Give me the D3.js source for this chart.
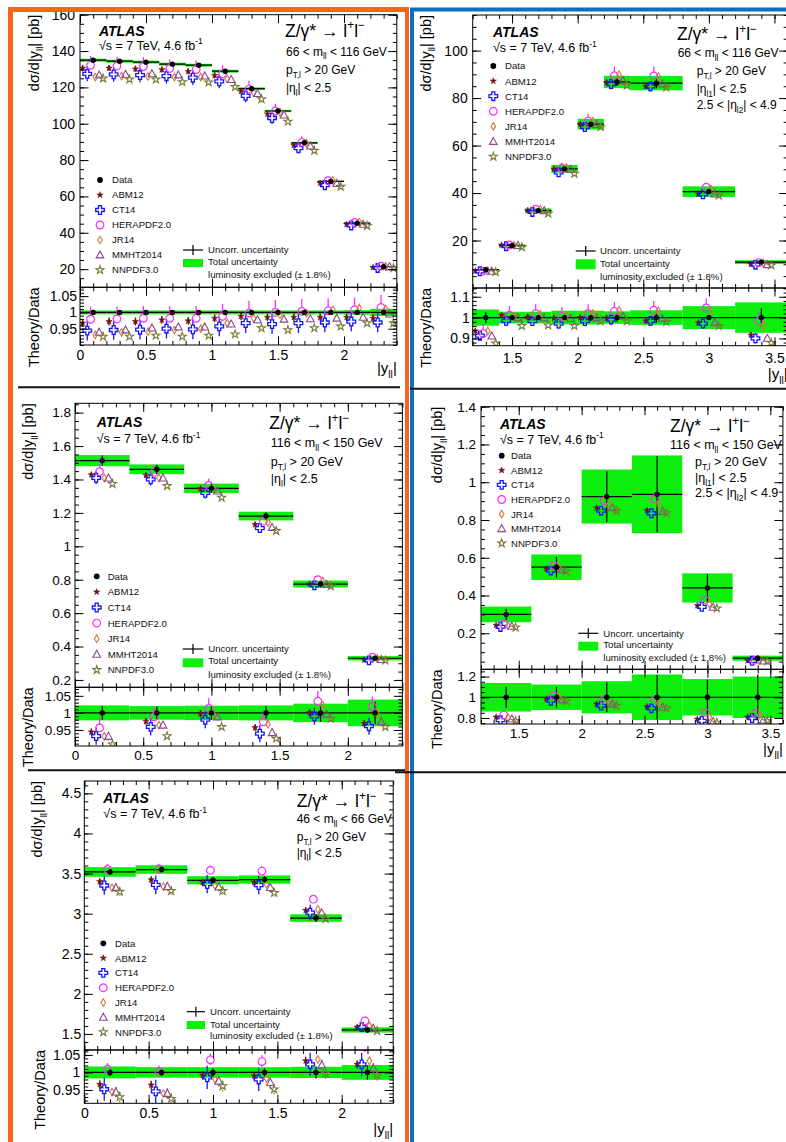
<!DOCTYPE html>
<html>
<head>
<meta charset="utf-8">
<script src="https://cdn.jsdelivr.net/npm/d3@7"></script>
<style>
  body { margin: 0; background: #fff; }
  svg { display: block; }
</style>
</head>
<body>
<svg id="chart" width="786" height="1142"></svg>
<script>
// ---------------------------------------------------------------------------
// Z/gamma* -> l+l- differential cross sections d(sigma)/d|y_ll|, ATLAS 7 TeV.
// Measured values (pb), relative uncertainties and theory/data ratios per bin.
// ---------------------------------------------------------------------------
const pdfSets = ["ABM12", "CT14", "HERAPDF2.0", "JR14", "MMHT2014", "NNPDF3.0"];
const legendNames = ["Data"].concat(pdfSets);
const xTicksCentral = [0, 0.5, 1, 1.5, 2];
const xTicksForward = [1.5, 2, 2.5, 3, 3.5];

// 66 < m_ll < 116 GeV, central-central
const p1Edges = [0, 0.2, 0.4, 0.6, 0.8, 1.0, 1.2, 1.4, 1.6, 1.8, 2.0, 2.2, 2.4];
const p1Data = [134.97, 134.4, 133.9, 132.8, 132.2, 128.9, 119.3, 107.0, 89.5, 68.3, 45.3, 21.3];
const p1Uncorr = [0.003, 0.003, 0.003, 0.003, 0.003, 0.003, 0.003, 0.003, 0.003, 0.004, 0.004, 0.005];
const p1Total = [0.006, 0.006, 0.006, 0.006, 0.006, 0.006, 0.006, 0.006, 0.006, 0.006, 0.007, 0.011];
const p1Abm = [0.967, 0.972, 0.972, 0.977, 0.974, 0.982, 0.988, 0.985, 0.985, 0.985, 0.985, 0.982];
const p1Ct = [0.944, 0.946, 0.947, 0.950, 0.948, 0.957, 0.967, 0.964, 0.967, 0.969, 0.972, 0.969];
const p1Hera = [0.979, 0.980, 0.982, 0.982, 0.982, 0.988, 0.998, 1.000, 1.003, 1.005, 1.008, 1.015];
const p1Jr = [0.931, 0.939, 0.941, 0.946, 0.950, 0.967, 0.982, 0.993, 0.998, 1.008, 1.013, 1.011];
const p1Mmht = [0.939, 0.946, 0.952, 0.955, 0.955, 0.964, 0.977, 0.979, 0.980, 0.982, 0.985, 0.995];
const p1Nnpdf = [0.926, 0.926, 0.929, 0.926, 0.929, 0.933, 0.952, 0.946, 0.952, 0.957, 0.967, 0.967];
const p1ErrUp = [0.012, 0.03, 0.038, 0.005, 0.012, 0.012];
const p1ErrDn = [0.012, 0.03, 0.014, 0.005, 0.012, 0.012];
const p1YTicks = [20, 40, 60, 80, 100, 120, 140, 160];
const p1RTicks = [0.95, 1, 1.05];
const p1Mass = [66, 116];

// 66 < m_ll < 116 GeV, central-forward
const p2Edges = [1.2, 1.4, 1.6, 1.8, 2.0, 2.2, 2.4, 2.8, 3.2, 3.6];
const p2Data = [7.7, 17.9, 32.6, 50.2, 69.0, 86.8, 86.3, 40.6, 10.9];
const p2Uncorr = [0.026, 0.012, 0.012, 0.012, 0.018, 0.02, 0.025, 0.01, 0.045];
const p2Total = [0.039, 0.028, 0.028, 0.033, 0.033, 0.03, 0.035, 0.055, 0.073];
const p2Abm = [0.936, 1.011, 1.003, 0.998, 1.000, 0.998, 0.984, 0.975, 0.916];
const p2Ct = [0.913, 0.984, 0.983, 0.971, 0.983, 0.990, 0.984, 0.971, 0.900];
const p2Hera = [0.924, 1.011, 1.019, 1.006, 1.019, 1.030, 1.035, 1.046, 0.983];
const p2Jr = [0.936, 1.006, 1.016, 1.011, 1.019, 1.035, 1.032, 1.027, 0.963];
const p2Mmht = [0.911, 0.998, 0.998, 0.995, 0.998, 1.006, 0.995, 0.975, 0.900];
const p2Nnpdf = [0.876, 0.960, 0.963, 0.960, 0.983, 0.983, 0.979, 0.960, 0.879];
const p2ErrUp = [0.012, 0.025, 0.045, 0.008, 0.012, 0.012];
const p2ErrDn = [0.012, 0.025, 0.012, 0.008, 0.012, 0.012];
const p2YTicks = [20, 40, 60, 80, 100];
const p2RTicks = [0.9, 1, 1.1];
const p2Mass = [66, 116];

// 116 < m_ll < 150 GeV, central-central
const p3Edges = [0, 0.4, 0.8, 1.2, 1.6, 2.0, 2.4];
const p3Data = [1.513, 1.461, 1.347, 1.181, 0.774, 0.33];
const p3Uncorr = [0.02, 0.019, 0.02, 0.02, 0.026, 0.033];
const p3Total = [0.022, 0.02, 0.021, 0.022, 0.027, 0.039];
const p3Abm = [0.944, 0.975, 0.998, 0.957, 1.001, 0.969];
const p3Ct = [0.932, 0.959, 0.980, 0.939, 0.990, 0.961];
const p3Hera = [0.956, 0.988, 1.013, 0.974, 1.034, 1.018];
const p3Jr = [0.931, 0.964, 0.996, 0.967, 1.023, 0.996];
const p3Mmht = [0.931, 0.964, 0.988, 0.942, 0.996, 0.974];
const p3Nnpdf = [0.908, 0.932, 0.959, 0.925, 0.983, 0.959];
const p3ErrUp = [0.01, 0.025, 0.03, 0.005, 0.012, 0.012];
const p3ErrDn = [0.01, 0.025, 0.012, 0.005, 0.012, 0.012];
const p3YTicks = [0.2, 0.4, 0.6, 0.8, 1, 1.2, 1.4, 1.6, 1.8];
const p3RTicks = [0.95, 1, 1.05];
const p3Mass = [116, 150];

// 116 < m_ll < 150 GeV, central-forward
const p4Edges = [1.2, 1.6, 2.0, 2.4, 2.8, 3.2, 3.6];
const p4Data = [0.30, 0.55, 0.924, 0.936, 0.44, 0.068];
const p4Uncorr = [0.1, 0.1, 0.145, 0.215, 0.17, 0.22];
const p4Total = [0.138, 0.123, 0.155, 0.22, 0.176, 0.2];
const p4Abm = [0.810, 0.984, 0.935, 0.909, 0.789, 0.810];
const p4Ct = [0.779, 0.967, 0.919, 0.893, 0.772, 0.800];
const p4Hera = [0.828, 1.016, 0.977, 0.974, 0.854, 0.847];
const p4Jr = [0.805, 1.000, 0.951, 0.942, 0.810, 0.828];
const p4Mmht = [0.789, 0.974, 0.935, 0.903, 0.766, 0.779];
const p4Nnpdf = [0.772, 0.961, 0.919, 0.893, 0.756, 0.772];
const p4ErrUp = [0.01, 0.02, 0.02, 0.005, 0.01, 0.01];
const p4ErrDn = [0.01, 0.02, 0.02, 0.005, 0.01, 0.01];
const p4YTicks = [0.2, 0.4, 0.6, 0.8, 1, 1.2, 1.4];
const p4RTicks = [0.8, 1, 1.2];
const p4Mass = [116, 150];

// 46 < m_ll < 66 GeV, central-central
const p5Edges = [0, 0.4, 0.8, 1.2, 1.6, 2.0, 2.4];
const p5Data = [3.52, 3.55, 3.416, 3.425, 2.945, 1.55];
const p5Uncorr = [0.01, 0.01, 0.012, 0.012, 0.017, 0.02];
const p5Total = [0.017, 0.015, 0.015, 0.015, 0.016, 0.021];
const p5Abm = [0.966, 0.964, 0.992, 0.990, 1.033, 1.023];
const p5Ct = [0.952, 0.946, 0.986, 0.980, 1.023, 1.023];
const p5Hera = [1.009, 1.002, 1.036, 1.031, 1.080, 1.073];
const p5Jr = [0.944, 0.940, 0.981, 0.983, 1.037, 1.033];
const p5Mmht = [0.944, 0.940, 0.975, 0.971, 1.021, 1.012];
const p5Nnpdf = [0.930, 0.925, 0.961, 0.952, 0.997, 0.992];
const p5ErrUp = [0.012, 0.033, 0.018, 0.005, 0.015, 0.015];
const p5ErrDn = [0.012, 0.033, 0.015, 0.005, 0.015, 0.015];
const p5YTicks = [1.5, 2, 2.5, 3, 3.5, 4, 4.5];
const p5RTicks = [0.95, 1, 1.05];
const p5Mass = [46, 66];

// ---------------------------------------------------------------------------
const FONT = "'Liberation Sans', Arial, Helvetica, sans-serif";
const GREEN = "#0cef0c";
const OFFSETS = [-0.08, -0.045, -0.02, 0.015, 0.045, 0.075]; // horizontal spread of PDF predictions
const GAP = [0, 4.3, 3.9, 3.8, 3.4, 3.6];                      // error-bar gap around open markers

const crossPath = (a, w) => `M${-w},${-a}H${w}V${-w}H${a}V${w}H${w}V${a}H${-w}V${w}H${-a}V${-w}H${-w}Z`;
const MARK = {
  "Data":       { d: d3.symbol(d3.symbolCircle, 26)(), fill: "#000", stroke: "none", sw: 0 },
  "ABM12":      { d: d3.symbol(d3.symbolStar, 12)(), fill: "#731212", stroke: "#731212", sw: 0.6 },
  "CT14":       { d: crossPath(4.3, 1.5), fill: "none", stroke: "#1414ff", sw: 1.3 },
  "HERAPDF2.0": { d: d3.symbol(d3.symbolCircle, 46)(), fill: "none", stroke: "#ff2cff", sw: 1.2 },
  "JR14":       { d: "M0,-3.8L2.3,0L0,3.8L-2.3,0Z", fill: "none", stroke: "#d07a3a", sw: 1.1 },
  "MMHT2014":   { d: "M0,-4.1L3.8,2.9L-3.8,2.9Z", fill: "none", stroke: "#8a4a8e", sw: 1.1 },
  "NNPDF3.0":   { d: d3.symbol(d3.symbolStar, 20)(), fill: "none", stroke: "#7a7a38", sw: 1.1 }
};
const colorOf = name => (MARK[name].stroke === "none" ? MARK[name].fill : MARK[name].stroke);

const panels = [
  { edges: p1Edges, values: p1Data, uncorr: p1Uncorr, total: p1Total,
    ratios: [p1Abm, p1Ct, p1Hera, p1Jr, p1Mmht, p1Nnpdf], errUp: p1ErrUp, errDn: p1ErrDn,
    yTicks: p1YTicks, rTicks: p1RTicks, xTicks: xTicksCentral, mass: p1Mass, forward: false },
  { edges: p2Edges, values: p2Data, uncorr: p2Uncorr, total: p2Total,
    ratios: [p2Abm, p2Ct, p2Hera, p2Jr, p2Mmht, p2Nnpdf], errUp: p2ErrUp, errDn: p2ErrDn,
    yTicks: p2YTicks, rTicks: p2RTicks, xTicks: xTicksForward, mass: p2Mass, forward: true },
  { edges: p3Edges, values: p3Data, uncorr: p3Uncorr, total: p3Total,
    ratios: [p3Abm, p3Ct, p3Hera, p3Jr, p3Mmht, p3Nnpdf], errUp: p3ErrUp, errDn: p3ErrDn,
    yTicks: p3YTicks, rTicks: p3RTicks, xTicks: xTicksCentral, mass: p3Mass, forward: false },
  { edges: p4Edges, values: p4Data, uncorr: p4Uncorr, total: p4Total,
    ratios: [p4Abm, p4Ct, p4Hera, p4Jr, p4Mmht, p4Nnpdf], errUp: p4ErrUp, errDn: p4ErrDn,
    yTicks: p4YTicks, rTicks: p4RTicks, xTicks: xTicksForward, mass: p4Mass, forward: true },
  { edges: p5Edges, values: p5Data, uncorr: p5Uncorr, total: p5Total,
    ratios: [p5Abm, p5Ct, p5Hera, p5Jr, p5Mmht, p5Nnpdf], errUp: p5ErrUp, errDn: p5ErrDn,
    yTicks: p5YTicks, rTicks: p5RTicks, xTicks: xTicksCentral, mass: p5Mass, forward: false }
];

// Page geometry of each figure
const layouts = [
  { clip: [13, 12, 392, 375], x0: 80, x1: 396.8, xDom: [0, 2.4], top: 14.7, mid: 287.3, bot: 345,
    yDom: [10, 160], rDom: [0.9, 1.077], yMinor: 5, rMinor: 0.01, fs: 14, yPad: 5, rPad: 3, xPad: 5,
    titleX: 38.5, rTitleX: 38.5, atlas: [99, 36], sqrts: [99, 49.5], proc: [285, 36.5],
    mass: [286, 55.5], pt: [286, 74], eta: [286, 92], eta2: null, textFs: 12,
    leg: { mx: 100, tx: 112, y0: 180, dy: 15 },
    unc: { x0: 183, x1: 203, tx: 208, y: [250, 262, 275], box: [259, 267] }, xTitleY: 373 },
  { clip: [414, 12, 372, 376], x0: 472.7, x1: 787.6, xDom: [1.2, 3.6], top: 15, mid: 288, bot: 345.7,
    yDom: [0, 115], rDom: [0.865, 1.142], yMinor: 5, rMinor: 0.02, fs: 14, yPad: 5, rPad: 3, xPad: 7,
    titleX: 430.5, rTitleX: 431, atlas: [493, 37], sqrts: [493, 52], proc: [677, 40],
    mass: [677.7, 57], pt: [696.7, 75], eta: [696.7, 92.7], eta2: [696.7, 109.3], textFs: 12,
    leg: { mx: 493.3, tx: 505, y0: 66, dy: 15.1 },
    unc: { x0: 575.7, x1: 595.7, tx: 600, y: [251, 263.3, 276.7], box: [259.3, 269.3] }, xTitleY: 379 },
  { clip: [21, 389, 384, 380], x0: 75, x1: 402.4, xDom: [0, 2.4], top: 403.3, mid: 687.3, bot: 746,
    yDom: [0.156, 1.856], rDom: [0.903, 1.075], yMinor: 0.05, rMinor: 0.01, fs: 13.5, yPad: 4, rPad: 4, xPad: 4,
    titleX: 33, rTitleX: 33, atlas: [96.7, 426.5], sqrts: [96.7, 443], proc: [269.3, 429],
    mass: [270.7, 447], pt: [270.7, 465.5], eta: [270.7, 483], eta2: null, textFs: 12.5,
    leg: { mx: 96.7, tx: 107.7, y0: 576.3, dy: 15.6 },
    unc: { x0: 182.7, x1: 203.3, tx: 208.3, y: [649, 661, 675], box: [658.3, 667.3] }, xTitleY: null },
  { clip: [414, 391, 372, 380], x0: 481, x1: 782.9, xDom: [1.2, 3.6], top: 406.7, mid: 669.3, bot: 724,
    yDom: [0.0093, 1.4], rDom: [0.742, 1.27], yMinor: 0.05, rMinor: 0.05, fs: 13.5, yPad: 5, rPad: 5, xPad: 4,
    titleX: 442, rTitleX: 442, atlas: [500, 429], sqrts: [500, 443.5], proc: [670, 432],
    mass: [670, 449], pt: [695, 466], eta: [695, 482], eta2: [695, 497], textFs: 12.5,
    leg: { mx: 501.7, tx: 511, y0: 455.7, dy: 14.6 },
    unc: { x0: 578.3, x1: 598.3, tx: 603.3, y: [633.3, 645, 657.3], box: [641.7, 650.7] }, xTitleY: 754 },
  { clip: [13, 774, 392, 368], x0: 84.3, x1: 393.2, xDom: [0, 2.4], top: 781, mid: 1050, bot: 1103.3,
    yDom: [1.3, 4.654], rDom: [0.912, 1.064], yMinor: 0.1, rMinor: 0.01, fs: 14, yPad: 3, rPad: 4, xPad: 5,
    titleX: 42, rTitleX: 45, atlas: [103.3, 803], sqrts: [103.3, 818], proc: [296.7, 807],
    mass: [296.7, 823], pt: [296.7, 841], eta: [296.7, 857], eta2: null, textFs: 12,
    leg: { mx: 103.3, tx: 115, y0: 943.3, dy: 14.8 },
    unc: { x0: 186.7, x1: 205, tx: 210, y: [1011.7, 1024.3, 1035.7], box: [1021, 1029] }, xTitleY: 1134 }
];

const svg = d3.select("#chart");
const defs = svg.append("defs");

function ticksEvery(dom, step) {
  const lo = Math.ceil(dom[0] / step - 1e-6), hi = Math.floor(dom[1] / step + 1e-6);
  return d3.range(lo, hi + 1).map(i => +(i * step).toFixed(6));
}

// text with sub/superscript pieces: parts = [[string, "n"|"sub"|"sup"], ...]
function rich(g, x, y, parts, fs, anchor) {
  const t = g.append("text").attr("x", x).attr("y", y).attr("font-size", fs)
    .attr("font-family", FONT).attr("text-anchor", anchor || "start").attr("fill", "#000");
  let cur = 0;
  parts.forEach(([s, k]) => {
    const target = k === "sub" ? fs * 0.32 : k === "sup" ? -fs * 0.42 : 0;
    const ts = t.append("tspan").attr("dy", target - cur).text(s);
    if (k !== "n") ts.attr("font-size", fs * 0.68);
    cur = target;
  });
  return t;
}

function styleAxis(sel, fs) {
  sel.select(".domain").remove();
  sel.selectAll("line").attr("stroke", "#000").attr("stroke-width", 1);
  sel.attr("font-family", FONT).attr("font-size", fs);
  sel.selectAll("text").attr("fill", "#000");
}

// ROOT-style frame: inward ticks on all four sides
function frame(g, x, y, yMaj, yMinStep, xMaj, L, showX, yPad) {
  const [xl, xr] = x.range();
  const [yb, yt] = y.range();
  const xMin = ticksEvery(x.domain(), 0.1);
  const yMin = ticksEvery(y.domain(), yMinStep);
  const fmt = d => String(+d.toFixed(3));
  g.append("g").attr("transform", `translate(${xl},0)`)
    .call(d3.axisLeft(y).tickValues(yMin).tickSize(-4).tickFormat("")).call(s => styleAxis(s, L.fs));
  g.append("g").attr("transform", `translate(${xl},0)`)
    .call(d3.axisLeft(y).tickValues(yMaj).tickSize(-8.5).tickPadding(yPad).tickFormat(fmt)).call(s => styleAxis(s, L.fs));
  g.append("g").attr("transform", `translate(${xr},0)`)
    .call(d3.axisRight(y).tickValues(yMin).tickSize(-4).tickFormat("")).call(s => styleAxis(s, L.fs));
  g.append("g").attr("transform", `translate(${xr},0)`)
    .call(d3.axisRight(y).tickValues(yMaj).tickSize(-8.5).tickFormat("")).call(s => styleAxis(s, L.fs));
  g.append("g").attr("transform", `translate(0,${yb})`)
    .call(d3.axisBottom(x).tickValues(xMin).tickSize(-4).tickFormat("")).call(s => styleAxis(s, L.fs));
  g.append("g").attr("transform", `translate(0,${yb})`)
    .call(d3.axisBottom(x).tickValues(xMaj).tickSize(-8.5).tickPadding(L.xPad).tickFormat(showX ? fmt : ""))
    .call(s => styleAxis(s, L.fs));
  g.append("g").attr("transform", `translate(0,${yt})`)
    .call(d3.axisTop(x).tickValues(xMin).tickSize(-4).tickFormat("")).call(s => styleAxis(s, L.fs));
  g.append("g").attr("transform", `translate(0,${yt})`)
    .call(d3.axisTop(x).tickValues(xMaj).tickSize(-8.5).tickFormat("")).call(s => styleAxis(s, L.fs));
  g.append("rect").attr("x", xl).attr("y", yt).attr("width", xr - xl).attr("height", yb - yt)
    .attr("fill", "none").attr("stroke", "#000").attr("stroke-width", 1);
}

// one pad of measurement + predictions; val(d, rel) maps a relative value to the pad's quantity
function drawLayer(g, bins, pts, x, y, val) {
  g.selectAll("rect.tot").data(bins).join("rect").attr("class", "tot")
    .attr("x", d => x(d.lo)).attr("width", d => x(d.hi) - x(d.lo))
    .attr("y", d => y(val(d, 1 + d.tot)))
    .attr("height", d => y(val(d, 1 - d.tot)) - y(val(d, 1 + d.tot)))
    .attr("fill", GREEN);
  g.selectAll("line.bin").data(bins).join("line").attr("class", "bin")
    .attr("x1", d => x(d.lo)).attr("x2", d => x(d.hi))
    .attr("y1", d => y(val(d, 1))).attr("y2", d => y(val(d, 1)))
    .attr("stroke", "#000").attr("stroke-width", 1.2);
  g.selectAll("line.unc").data(bins).join("line").attr("class", "unc")
    .attr("x1", d => x(d.c)).attr("x2", d => x(d.c))
    .attr("y1", d => y(val(d, 1 + d.unc))).attr("y2", d => y(val(d, 1 - d.unc)))
    .attr("stroke", "#000").attr("stroke-width", 1.2);

  // prediction error bars, interrupted by open markers
  const segs = [];
  pts.forEach(p => {
    const yc = y(val(p, p.r)), yu = y(val(p, p.r + p.eu)), yd = y(val(p, p.r - p.ed));
    const gp = GAP[p.j];
    if (yc - gp - yu > 0.5) segs.push({ p, a: yu, b: yc - gp });
    if (yd - (yc + gp) > 0.5) segs.push({ p, a: yc + gp, b: yd });
  });
  g.selectAll("line.terr").data(segs).join("line").attr("class", "terr")
    .attr("x1", s => x(s.p.x)).attr("x2", s => x(s.p.x))
    .attr("y1", s => s.a).attr("y2", s => s.b)
    .attr("stroke", s => colorOf(s.p.name)).attr("stroke-width", 1.3);
  g.selectAll("path.mk").data(pts).join("path").attr("class", "mk")
    .attr("d", p => MARK[p.name].d)
    .attr("transform", p => `translate(${x(p.x)},${y(val(p, p.r))})`)
    .attr("fill", p => MARK[p.name].fill).attr("stroke", p => MARK[p.name].stroke)
    .attr("stroke-width", p => MARK[p.name].sw);
  g.selectAll("circle.dat").data(bins).join("circle").attr("class", "dat")
    .attr("cx", d => x(d.c)).attr("cy", d => y(val(d, 1))).attr("r", 2.7).attr("fill", "#000");
}

function drawPanel(D, L, k) {
  defs.append("clipPath").attr("id", `panel${k}`).append("rect")
    .attr("x", L.clip[0]).attr("y", L.clip[1]).attr("width", L.clip[2]).attr("height", L.clip[3]);
  defs.append("clipPath").attr("id", `up${k}`).append("rect")
    .attr("x", L.x0).attr("y", L.top).attr("width", L.x1 - L.x0).attr("height", L.mid - L.top);
  defs.append("clipPath").attr("id", `rt${k}`).append("rect")
    .attr("x", L.x0).attr("y", L.mid).attr("width", L.x1 - L.x0).attr("height", L.bot - L.mid);

  const root = svg.append("g").attr("clip-path", `url(#panel${k})`);
  const x = d3.scaleLinear().domain(L.xDom).range([L.x0, L.x1]);
  const yU = d3.scaleLinear().domain(L.yDom).range([L.mid, L.top]);
  const yR = d3.scaleLinear().domain(L.rDom).range([L.bot, L.mid]);

  const bins = D.values.map((v, i) => ({
    lo: D.edges[i], hi: D.edges[i + 1], c: (D.edges[i] + D.edges[i + 1]) / 2,
    v, unc: D.uncorr[i], tot: D.total[i]
  }));
  const pts = pdfSets.flatMap((name, j) => bins.map((b, i) => ({
    name, j, x: b.c + OFFSETS[j], r: D.ratios[j][i], v: b.v, eu: D.errUp[j], ed: D.errDn[j]
  })));

  drawLayer(root.append("g").attr("clip-path", `url(#up${k})`), bins, pts, x, yU, (d, rel) => d.v * rel);
  drawLayer(root.append("g").attr("clip-path", `url(#rt${k})`), bins, pts, x, yR, (d, rel) => rel);

  frame(root.append("g"), x, yU, D.yTicks, L.yMinor, D.xTicks, L, false, L.yPad);
  frame(root.append("g"), x, yR, D.rTicks, L.rMinor, D.xTicks, L, true, L.rPad);

  // axis titles
  rich(root, 0, 0, [["dσ/d|y", "n"], ["ll", "sub"], ["| [pb]", "n"]], 14.5, "end")
    .attr("transform", `translate(${L.titleX},${L.top}) rotate(-90)`);
  rich(root, 0, 0, [["Theory/Data", "n"]], 14.5, "end")
    .attr("transform", `translate(${L.rTitleX},${L.mid}) rotate(-90)`);
  if (L.xTitleY !== null) {
    rich(root, L.x1, L.xTitleY, [["|y", "n"], ["ll", "sub"], ["|", "n"]], 15, "end");
  }

  // labels
  root.append("text").attr("x", L.atlas[0]).attr("y", L.atlas[1]).attr("font-family", FONT)
    .attr("font-size", 14).attr("font-weight", "bold").attr("font-style", "italic").text("ATLAS");
  rich(root, L.sqrts[0], L.sqrts[1], [["√s = 7 TeV, 4.6 fb", "n"], ["-1", "sup"]], 12.5);
  rich(root, L.proc[0], L.proc[1], [["Z/γ* → l", "n"], ["+", "sup"], ["l", "n"], ["−", "sup"]], 17.5);
  rich(root, L.mass[0], L.mass[1], [[`${D.mass[0]} < m`, "n"], ["ll", "sub"], [` < ${D.mass[1]} GeV`, "n"]], L.textFs);
  rich(root, L.pt[0], L.pt[1], [["p", "n"], ["T,l", "sub"], [" > 20 GeV", "n"]], L.textFs);
  if (D.forward) {
    rich(root, L.eta[0], L.eta[1], [["|η", "n"], ["l1", "sub"], ["| < 2.5", "n"]], L.textFs);
    rich(root, L.eta2[0], L.eta2[1], [["2.5 < |η", "n"], ["l2", "sub"], ["| < 4.9", "n"]], L.textFs);
  } else {
    rich(root, L.eta[0], L.eta[1], [["|η", "n"], ["l", "sub"], ["| < 2.5", "n"]], L.textFs);
  }

  // marker legend
  const leg = root.append("g");
  legendNames.forEach((name, i) => {
    const yy = L.leg.y0 + i * L.leg.dy;
    leg.append("path").attr("d", MARK[name].d).attr("transform", `translate(${L.leg.mx},${yy})`)
      .attr("fill", MARK[name].fill).attr("stroke", MARK[name].stroke).attr("stroke-width", MARK[name].sw);
    leg.append("text").attr("x", L.leg.tx).attr("y", yy + 3.4).attr("font-family", FONT)
      .attr("font-size", 9.6).attr("fill", "#111").text(name);
  });

  // uncertainty legend
  const U = L.unc;
  leg.append("rect").attr("x", U.x0).attr("y", U.box[0]).attr("width", U.x1 - U.x0)
    .attr("height", U.box[1] - U.box[0]).attr("fill", GREEN);
  leg.append("line").attr("x1", U.x0).attr("x2", U.x1).attr("y1", U.y[0]).attr("y2", U.y[0])
    .attr("stroke", "#000").attr("stroke-width", 1.2);
  leg.append("line").attr("x1", (U.x0 + U.x1) / 2).attr("x2", (U.x0 + U.x1) / 2)
    .attr("y1", U.y[0] - 5).attr("y2", U.y[0] + 5).attr("stroke", "#000").attr("stroke-width", 1.2);
  ["Uncorr. uncertainty", "Total uncertainty", "luminosity excluded (± 1.8%)"].forEach((s, i) => {
    leg.append("text").attr("x", U.tx).attr("y", U.y[i] + 3.4).attr("font-family", FONT)
      .attr("font-size", 9.6).attr("fill", "#111").text(s);
  });
}

panels.forEach((D, k) => drawPanel(D, layouts[k], k));

// column frames and separators
svg.append("path").attr("d", "M10.5,1142V9.5H407").attr("fill", "none")
  .attr("stroke", "#f8651a").attr("stroke-width", 5);
svg.append("line").attr("x1", 407).attr("x2", 407).attr("y1", 7).attr("y2", 1142)
  .attr("stroke", "#f8651a").attr("stroke-width", 4);
svg.append("path").attr("d", "M412,1142V9.5H786").attr("fill", "none")
  .attr("stroke", "#0a6fc2").attr("stroke-width", 4);
const seps = [[18, 400, 387.3], [410, 786, 388.8], [28, 405, 770.3], [395, 786, 772.3]];
svg.selectAll("line.sep").data(seps).join("line").attr("class", "sep")
  .attr("x1", d => d[0]).attr("x2", d => d[1]).attr("y1", d => d[2]).attr("y2", d => d[2])
  .attr("stroke", "#111").attr("stroke-width", 2);
</script>
</body>
</html>
